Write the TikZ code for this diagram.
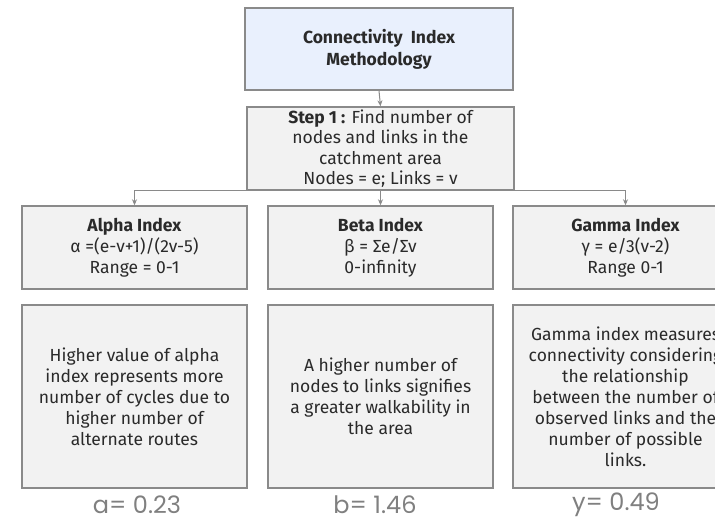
\documentclass[tikz,border=0pt]{standalone}
\usepackage{fontspec}
\setmainfont{Fira Sans}
\newfontfamily\pop{Poppins}
\usetikzlibrary{arrows.meta}
\definecolor{edge}{HTML}{8A8A8A}
\definecolor{boxfill}{HTML}{F2F2F2}
\definecolor{topfill}{HTML}{E9F0FD}
\definecolor{txt}{HTML}{2A2A2A}
\definecolor{valtxt}{HTML}{808080}
\begin{document}
\begin{tikzpicture}[x=1pt,y=-1pt,
  box/.style={draw=edge,line width=1.4pt,fill=boxfill,inner sep=0pt,
    minimum width=225pt,minimum height=83pt,align=center,text=txt,
    font=\fontsize{17.5}{21}\selectfont},
  tallbox/.style={box,minimum height=183pt},
  arr/.style={draw=edge,line width=1pt,-{Stealth[length=6pt,width=5pt]}},
  val/.style={text=valtxt,font=\pop\fontsize{24}{26}\selectfont,inner sep=0pt}]
\useasboundingbox (0,0) rectangle (715,521);
\fill[white] (0,0) rectangle (715,521);
\node[box,fill=topfill,minimum width=268pt,minimum height=82pt,
  font=\bfseries\fontsize{17.5}{22}\selectfont] (top) at (379,49)
  {Connectivity\ \ Index\\Methodology};
\node[box,minimum width=267pt,minimum height=83pt,
  font=\fontsize{17.5}{20.5}\selectfont] (step) at (380.5,148.5)
  {\textbf{Step 1 :} Find number of\\nodes and links in the\\catchment area\\Nodes = e; Links = v};
\node[box] (alpha) at (134.5,247.5)
  {\textbf{Alpha Index}\\α =(e-v+1)/(2v-5)\\Range = 0-1};
\node[box] (beta) at (380.5,247.5)
  {\textbf{Beta Index}\\β = Σe/Σv\\0-infinity};
\node[box] (gamma) at (625.5,247.5)
  {\textbf{Gamma Index}\\γ = e/3(v-2)\\Range 0-1};
\node[tallbox] (alphad) at (134.5,396.5)
  {Higher value of alpha\\index represents more\\number of cycles due to\\higher number of\\alternate routes};
\node[tallbox] (betad) at (380.5,396.5)
  {A higher number of\\nodes to links signifies\\a greater walkability in\\the area};
\node[tallbox] (gammad) at (625.5,396.5)
  {Gamma index measures\\connectivity considering\\the relationship\\between the number of\\observed links and the\\number of possible\\links.};
\node[val] (va) at (137,505) {a= 0.23};
\node[val] (vb) at (375,505) {b= 1.46};
\node[val] (vg) at (616,505) {y= 0.49};
\draw[arr] (top.south) -- (step.north);
\draw[arr] (step.south) -| (alpha.north);
\draw[arr] (step.south) -- (beta.north);
\draw[arr] (step.south) -| (gamma.north);
\end{tikzpicture}
\end{document}
